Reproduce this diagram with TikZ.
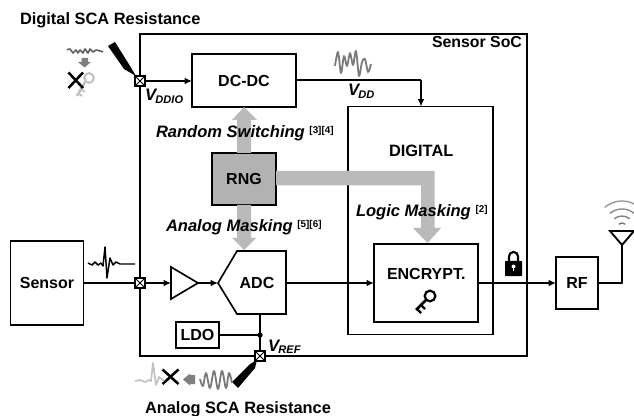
\documentclass[tikz,border=0pt]{standalone}
\usepackage{fontspec}
\setmainfont{Liberation Sans}
\usetikzlibrary{arrows.meta,calc}
\newcommand{\bi}[1]{\textbf{\textit{#1}}}
\newcommand{\volt}[1]{\bi{\fontsize{12.5pt}{13pt}\selectfont V\kern-0.5pt\raisebox{-2pt}{\fontsize{8.3pt}{9pt}\selectfont #1}}}
\newcommand{\refmark}[1]{\raisebox{3.5pt}{\fontsize{7.4pt}{8pt}\selectfont\textbf{#1}}}
\tikzset{
 x=0.75pt,y=-0.75pt,
 box/.style={draw=black,line width=1.25pt,fill=white,inner sep=0pt,outer sep=0pt,font=\fontsize{12pt}{13pt}\selectfont\bfseries,align=center},
 lbl/.style={inner sep=0pt,outer sep=0pt,font=\fontsize{12.3pt}{13pt}\selectfont\bfseries,anchor=base west},
 ital/.style={inner sep=0pt,outer sep=0pt,font=\fontsize{12.3pt}{13pt}\selectfont,anchor=base west},
 wire/.style={line width=1.05pt,draw=black},
 arr/.style={wire,-{Latex[length=5.5pt,width=5pt]}},
 thick wire/.style={line width=2pt,draw=black},
 pad/.style={draw=black,line width=1.5pt,fill=white,minimum size=8pt,inner sep=0pt,outer sep=0pt,path picture={\draw[line width=0.7pt] (path picture bounding box.north west)--(path picture bounding box.south east) (path picture bounding box.north east)--(path picture bounding box.south west);}},
 grayarrow/.style={fill=black!27,draw=none},
 wave/.style={line width=1.35pt,line join=round,draw=black!52},
 xmark/.style={line width=1.9pt,draw=black},
}
\begin{document}
\begin{tikzpicture}
\useasboundingbox (0,0) rectangle (634,416);
\fill[white] (0,0) rectangle (634,416);
% containers
\node[box,fill=none,minimum width=387*0.75pt,minimum height=322*0.75pt,anchor=north west] (soc) at (140,34) {};
\node[box,minimum width=145*0.75pt,minimum height=228*0.75pt,anchor=north west] (digital) at (348,106.5) {};
\node[box,minimum width=104*0.75pt,minimum height=78*0.75pt,anchor=north west] (enc) at (374,244) {};
\node[box,minimum width=104*0.75pt,minimum height=53*0.75pt,anchor=north west] (dcdc) at (192,54) {DC-DC};
\node[box,fill=black!30,minimum width=64*0.75pt,minimum height=52*0.75pt,anchor=north west] (rng) at (212,153) {RNG};
\node[box,minimum width=73*0.75pt,minimum height=84*0.75pt,anchor=north west] (sensor) at (10.5,241) {Sensor};
\node[box,minimum width=42*0.75pt,minimum height=52*0.75pt,anchor=north west] (rf) at (556,257) {RF};
\node[box,minimum width=43*0.75pt,minimum height=26*0.75pt,anchor=north west] (ldo) at (176,322) {LDO};
% ADC and buffer
\coordinate (adctip) at (218,283);
\coordinate (adcbot) at (260,314);
\draw[line width=1.25pt,fill=white,line join=miter] (adctip)--(237,251)--(286,251)--(286,314)--(237,314)--cycle;
\node[inner sep=0pt,font=\fontsize{12pt}{13pt}\selectfont\bfseries] (adc) at (257,283) {ADC};
\coordinate (bufin) at (171,283);
\coordinate (buftip) at (198,283);
\draw[line width=1.25pt,fill=white] (171,267)--(buftip)--(171,299)--cycle;
% pads
\node[pad] (pd) at (140,81) {};
\node[pad] (ps) at (140,283) {};
\node[pad] (pr) at (260,356) {};
% gray arrows
\fill[grayarrow] (237,153)--(237,120)--(232,120)--(244,107)--(257,120)--(251,120)--(251,153)--cycle;
\fill[grayarrow] (237,205)--(237,238)--(232,238)--(244,250)--(256,238)--(251,238)--(251,205)--cycle;
\fill[grayarrow] (276,171)--(434.5,171)--(434.5,228)--(441,228)--(427.5,243)--(413,228)--(421,228)--(421,185.5)--(276,185.5)--cycle;
% wires
\draw[arr] (pd)--(dcdc.west |- pd);
\draw[thick wire] (dcdc.east |- 0,80)--(421,80) coordinate (vddc);
\draw[arr] (vddc)--(vddc |- digital.north);
\draw[wire] (sensor.east |- ps)--(ps);
\draw[arr] (ps)--(bufin);
\draw[arr] (buftip)--(adctip);
\draw[arr] (286,283)--(enc.west |- 0,283);
\draw[arr] (enc.east |- 0,283)--(rf.west |- 0,283);
\coordinate (ldoj) at (260,335);
\draw[thick wire] (adcbot)--(pr);
\draw[wire] (ldo.east |- ldoj)--(ldoj);
\fill (ldoj) circle (2pt);
% antenna
\coordinate (antbase) at (622,283);
\coordinate (antapex) at (622,245);
\draw[wire] (rf.east |- antbase)--(antbase);
\draw[thick wire,line cap=round] (antbase)--(antapex);
\draw[line width=1.4pt,line join=miter] (antapex)--(610,231)--(634,231)--cycle;
\foreach \r/\g in {5/55,12/50,19/45,27/40}{\draw[line width=1.05pt,draw=black!\g] (622,228) ++(130:\r*0.75pt) arc[start angle=130,end angle=50,radius=\r*0.75pt];}
% probes
\fill (108,46)--(115,42)--(130,66)--(136,76)--(124,69)--cycle;
\fill (232,382)--(238,388)--(255,368)--(257,360)--(250,364)--cycle;
% texts
\node[lbl] (t1) at (20,25) {Digital SCA Resistance};
\node[lbl] (t2) at (145,413) {Analog SCA Resistance};
\node[lbl] (t3) at (432,48) {\fontsize{11.9pt}{13pt}\selectfont Sensor SoC};
\node[lbl] (t4) at (389,157) {DIGITAL};
\node[lbl,font=\fontsize{12pt}{13pt}\selectfont\bfseries] (t5) at (387,279) {ENCRYPT.};
\node[ital,font=\fontsize{12.4pt}{13pt}\selectfont] (t6) at (156,138) {\bi{Random Switching}\hspace{3.5pt}\refmark{[3][4]}};
\node[ital,font=\fontsize{12.4pt}{13pt}\selectfont] (t7) at (166,232) {\bi{Analog Masking}\hspace{3.5pt}\refmark{[5][6]}};
\node[ital,font=\fontsize{12.4pt}{13pt}\selectfont] (t8) at (356,217) {\bi{Logic Masking}\hspace{3.5pt}\refmark{[2]}};
\node[ital] (t9) at (145,101) {\volt{DDIO}};
\node[ital] (t10) at (348,96) {\volt{DD}};
\node[ital] (t11) at (268,351) {\volt{REF}};
% key in encrypt block
\begin{scope}[shift={(424,299)}]
\draw[line width=1.7pt] (6,-3) circle[radius=4pt];
\draw[line width=2pt] (3,0)--(-8,11);
\draw[line width=1.6pt] (-3,6)--(1,10) (-7,10)--(-3,14);
\end{scope}
% gray key, X
\begin{scope}[shift={(85,83)}]
\draw[line width=1.5pt,draw=black!25] (4,-5) circle[radius=3.6pt];
\draw[line width=1.8pt,draw=black!25] (0,-1)--(-8,13);
\draw[line width=1.3pt,draw=black!25] (-4,6)--(0,9) (-7,10)--(-3,13);
\end{scope}
\draw[xmark] (68.5,72.5)--(83,88) (83,72.5)--(68.5,88);
\draw[xmark] (162.5,369.5)--(178.5,384) (178.5,369.5)--(162.5,384);
% small gray arrows
\fill[black!50] (81.5,58)--(88,58)--(88,62)--(91,62)--(84.5,67.5)--(78,62)--(81.5,62)--cycle;
\fill[black!50] (195,375)--(195,384)--(190,384)--(190,385.5)--(183,379.5)--(190,373.5)--(190,375)--cycle;
% waves
\draw[line width=1.2pt,line join=round,draw=black!62] plot[smooth,tension=0.5] coordinates {(67,50) (70,49) (73,53) (76,50) (78,53) (80,50) (83,53) (85,49) (88,53) (90,49) (93,52) (96,50) (100,51) (103,52)};
\draw[wave] plot[smooth,tension=0.5] coordinates {(335,66) (338,52) (341,73) (344,56) (347,66) (350,53) (353,65) (356,51) (359,76) (362,62) (365,59) (368,72) (371,64)};
\draw[wave] plot[smooth,tension=0.6] coordinates {(200,379) (203,386) (206,373) (210,388) (214,371) (218,389) (222,371) (226,388) (229,373) (232,383)};
\draw[line width=1.3pt,line join=round,draw=black!24] (135,381)--(140,380)--(145,382)--(149,380)--(151,381)--(153,363)--(156,385)--(159,377)--(164,381);
\draw[line width=1.1pt,line join=round,draw=black] (88,263)--(92,265)--(95,262)--(98,265)--(101,263)--(103,266)--(105,247)--(107,278)--(110,258)--(113,265)--(116,262)--(120,264)--(135,264);
% lock
\fill[rounded corners=0.5pt] (505,261) rectangle (522,276);
\draw[line width=1.6pt] (509,261)--(509,256.5) arc[start angle=180,end angle=0,radius=3.4pt]--(518,261);
\fill[white] (513.5,266.5) circle (1.5pt);
\fill[white] (512.7,266.5) rectangle (514.3,271);
\end{tikzpicture}
\end{document}
